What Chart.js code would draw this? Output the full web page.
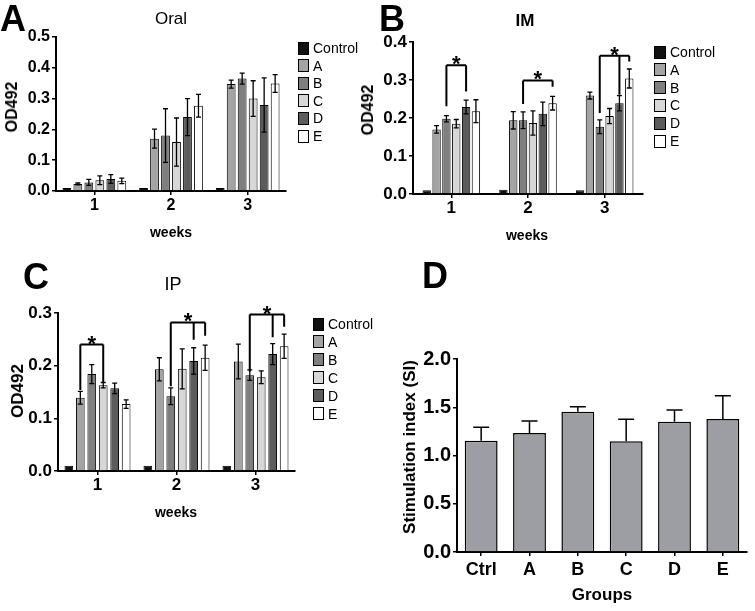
<!DOCTYPE html>
<html>
<head>
<meta charset="utf-8">
<script src="https://cdn.jsdelivr.net/npm/chart.js@4.4.1/dist/chart.umd.min.js"></script>
<style>
  body { margin: 0; background: #fff; }
  #fig { position: relative; width: 755px; height: 611px; overflow: hidden; font-family: "Liberation Sans", Arial, sans-serif; color: #000; }
  canvas { position: absolute; }
  .lbl { position: absolute; white-space: nowrap; line-height: 1; transform: translate(-50%, -50%); }
  .sw { position: absolute; box-sizing: border-box; border: 1px solid #000; }
  .kt { position: absolute; white-space: nowrap; line-height: 1; transform: translateY(-50%); font-size: 14px; }
</style>
</head>
<body>
<div id="fig"></div>
<script>
const FONT = '"Liberation Sans", Arial, sans-serif';

const weeks = ["1", "2", "3"];
const groups = ["Control", "A", "B", "C", "D", "E"];
const groupColors = ["#111111", "#a4a4a4", "#7f7f7f", "#d7d7d7", "#5c5c5c", "#ffffff"];

// A - Oral (one row per group, one value per week)
const oralMean = [
  [0.010, 0.010, 0.010],
  [0.023, 0.170, 0.347],
  [0.028, 0.180, 0.365],
  [0.035, 0.159, 0.300],
  [0.039, 0.240, 0.279],
  [0.033, 0.277, 0.349],
];
const oralErr = [
  [0, 0, 0],
  [0.003, 0.031, 0.013],
  [0.010, 0.087, 0.018],
  [0.014, 0.078, 0.058],
  [0.014, 0.060, 0.088],
  [0.009, 0.037, 0.029],
];

// B - IM
const imMean = [
  [0.010, 0.011, 0.010],
  [0.170, 0.194, 0.259],
  [0.198, 0.194, 0.177],
  [0.185, 0.187, 0.205],
  [0.229, 0.211, 0.239],
  [0.218, 0.239, 0.304],
];
const imErr = [
  [0, 0, 0],
  [0.010, 0.023, 0.009],
  [0.008, 0.022, 0.018],
  [0.011, 0.032, 0.020],
  [0.018, 0.031, 0.020],
  [0.030, 0.018, 0.025],
];
// significance brackets: week, groups joined, top of bracket, lower end of each leg
const imBrackets = [
  { week: 0, legs: [2, 4], top: 0.339, ends: [0.231, 0.270] },
  { week: 1, legs: [2, 5], top: 0.299, ends: [0.237, 0.282] },
  { week: 2, legs: [2, 4, 5], top: 0.364, ends: [0.213, 0.261, 0.349] },
];

// C - IP
const ipMean = [
  [0.010, 0.010, 0.010],
  [0.139, 0.193, 0.208],
  [0.184, 0.142, 0.182],
  [0.163, 0.194, 0.178],
  [0.157, 0.209, 0.222],
  [0.127, 0.215, 0.237],
];
const ipErr = [
  [0, 0, 0],
  [0.012, 0.022, 0.033],
  [0.018, 0.016, 0.010],
  [0.005, 0.038, 0.012],
  [0.010, 0.025, 0.020],
  [0.008, 0.024, 0.023],
];
const ipBrackets = [
  { week: 0, legs: [1, 3], top: 0.240, ends: [0.154, 0.168] },
  { week: 1, legs: [2, 4, 5], top: 0.282, ends: [0.161, 0.249, 0.257] },
  { week: 2, legs: [2, 4, 5], top: 0.297, ends: [0.189, 0.254, 0.274] },
];

// D - stimulation index
const siGroups = ["Ctrl", "A", "B", "C", "D", "E"];
const siMean = [1.154, 1.233, 1.454, 1.147, 1.351, 1.378];
const siErr = [0.138, 0.124, 0.052, 0.228, 0.120, 0.242];

const fig = document.getElementById("fig");

const label = (text, x, y, font, rotate) => {
  let el = document.createElement("div");
  el.className = "lbl";
  el.textContent = text;
  el.style.left = x + "px";
  el.style.top = y + "px";
  el.style.font = font;
  if (rotate) el.style.transform = "translate(-50%, -50%) rotate(-90deg)";
  fig.appendChild(el);
};

const legend = (x, textX, y0, dy, w) => {
  groups.forEach((g, i) => {
    let sw = document.createElement("div");
    sw.className = "sw";
    sw.style.left = x + "px";
    sw.style.top = (y0 + i * dy - 6.5) + "px";
    sw.style.width = w + "px";
    sw.style.height = "13px";
    sw.style.background = groupColors[i];
    fig.appendChild(sw);
    let t = document.createElement("div");
    t.className = "kt";
    t.textContent = g;
    t.style.left = textX + "px";
    t.style.top = (y0 + i * dy) + "px";
    fig.appendChild(t);
  });
};

// error bars drawn from the data through the y scale
const errorBars = {
  id: "errorBars",
  afterDatasetsDraw(chart, args, opts) {
    if (!opts.errors) return;
    const ctx = chart.ctx;
    const ys = chart.scales.y;
    ctx.save();
    ctx.strokeStyle = "#000";
    ctx.lineWidth = opts.width || 1.3;
    chart.data.datasets.forEach((ds, i) => {
      chart.getDatasetMeta(i).data.forEach((bar, j) => {
        let e = opts.errors[i][j];
        if (!e) return;
        let v = ds.data[j];
        let top = ys.getPixelForValue(v + e);
        let bot = opts.upOnly ? ys.getPixelForValue(v) : ys.getPixelForValue(v - e);
        let c = opts.cap / 2;
        ctx.beginPath();
        ctx.moveTo(bar.x, bot);
        ctx.lineTo(bar.x, top);
        ctx.moveTo(bar.x - c, top);
        ctx.lineTo(bar.x + c, top);
        if (!opts.upOnly) {
          ctx.moveTo(bar.x - c, bot);
          ctx.lineTo(bar.x + c, bot);
        }
        ctx.stroke();
      });
    });
    ctx.restore();
  },
};

// significance brackets with a star
const brackets = {
  id: "brackets",
  afterDatasetsDraw(chart, args, opts) {
    if (!opts.list) return;
    const ctx = chart.ctx;
    const ys = chart.scales.y;
    ctx.save();
    ctx.strokeStyle = "#000";
    ctx.fillStyle = "#000";
    ctx.lineWidth = 2;
    opts.list.forEach((b) => {
      let xs = b.legs.map((g) => chart.getDatasetMeta(g).data[b.week].x);
      let top = ys.getPixelForValue(b.top);
      ctx.beginPath();
      ctx.moveTo(xs[0], top);
      ctx.lineTo(xs[xs.length - 1], top);
      xs.forEach((x, k) => {
        ctx.moveTo(x, top);
        ctx.lineTo(x, ys.getPixelForValue(b.ends[k]));
      });
      ctx.stroke();
      ctx.font = "bold 22px " + FONT;
      ctx.textAlign = "center";
      ctx.textBaseline = "alphabetic";
      ctx.fillText("*", (xs[0] + xs[xs.length - 1]) / 2, top + 6);
    });
    ctx.restore();
  },
};

const makePanel = (p) => {
  let canvas = document.createElement("canvas");
  canvas.width = p.w;
  canvas.height = p.h;
  canvas.style.left = p.x + "px";
  canvas.style.top = p.y + "px";
  fig.appendChild(canvas);
  let a = p.area;
  let axisGrid = { drawOnChartArea: false, tickLength: 4, color: "#000", lineWidth: 1.5 };
  return new Chart(canvas, {
    type: "bar",
    data: { labels: p.labels, datasets: p.datasets },
    options: {
      responsive: false,
      animation: false,
      devicePixelRatio: 1,
      layout: { padding: { left: 0, top: a.t, right: p.w - a.r, bottom: 0 } },
      plugins: {
        legend: { display: false },
        tooltip: { enabled: false },
        errorBars: p.errorBars,
        brackets: { list: p.brackets },
      },
      scales: {
        x: {
          grid: Object.assign({ offset: false }, axisGrid),
          border: { color: "#000", width: 2 },
          ticks: { color: "#000", font: { family: FONT, weight: "bold", size: p.xFont }, padding: p.xPad },
          afterFit: (s) => { s.height = p.h - a.b; },
        },
        y: {
          min: 0,
          max: p.max,
          grid: axisGrid,
          border: { color: "#000", width: 2 },
          ticks: {
            stepSize: p.step,
            color: "#000",
            padding: 2,
            font: { family: FONT, weight: "bold", size: p.yFont },
            callback: (v) => v.toFixed(1),
          },
          afterFit: (s) => { s.width = a.l; },
        },
      },
    },
    plugins: [errorBars, brackets],
  });
};

const groupedSets = (means, catPct, barPct) =>
  groups.map((g, i) => ({
    label: g,
    data: means[i],
    backgroundColor: groupColors[i],
    borderColor: "#000",
    borderWidth: 1,
    categoryPercentage: catPct,
    barPercentage: barPct,
  }));

// A
makePanel({
  x: 0, y: 0, w: 380, h: 230,
  area: { l: 56, t: 37, r: 286, b: 191 },
  labels: weeks, max: 0.5, step: 0.1, xFont: 16, yFont: 16, xPad: 1,
  datasets: groupedSets(oralMean, 0.86, 0.8),
  errorBars: { errors: oralErr, cap: 5 },
});
label("A", 13, 19, "bold 36px " + FONT);
label("Oral", 171, 19, "17px " + FONT);
label("OD492", 12, 107, "bold 16px " + FONT, true);
label("weeks", 171, 232, "bold 14px " + FONT);
legend(298, 313, 48, 17.6, 11);

// B
makePanel({
  x: 355, y: 0, w: 400, h: 230,
  area: { l: 58, t: 42, r: 288, b: 194 },
  labels: weeks, max: 0.4, step: 0.1, xFont: 17, yFont: 17, xPad: 0,
  datasets: groupedSets(imMean, 0.77, 0.85),
  errorBars: { errors: imErr, cap: 5 },
  brackets: imBrackets,
});
label("B", 392, 19, "bold 36px " + FONT);
label("IM", 525, 21, "bold 17px " + FONT);
label("OD492", 368, 110, "bold 16px " + FONT, true);
label("weeks", 527, 235, "bold 14px " + FONT);
legend(654, 670, 52, 17.8, 12);

// C
makePanel({
  x: 0, y: 250, w: 380, h: 271,
  area: { l: 58, t: 63, r: 295, b: 221 },
  labels: weeks, max: 0.3, step: 0.1, xFont: 17, yFont: 17, xPad: 0,
  datasets: groupedSets(ipMean, 0.87, 0.76),
  errorBars: { errors: ipErr, cap: 5 },
  brackets: ipBrackets,
});
label("C", 36, 277, "bold 36px " + FONT);
label("IP", 173, 284, "18px " + FONT);
label("OD492", 18, 391, "bold 17px " + FONT, true);
label("weeks", 176, 512, "bold 14px " + FONT);
legend(313, 328, 324, 17.9, 11);

// D
makePanel({
  x: 375, y: 250, w: 380, h: 361,
  area: { l: 82, t: 109, r: 372, b: 302 },
  labels: siGroups, max: 2.0, step: 0.5, xFont: 18, yFont: 20, xPad: 3,
  datasets: [{
    label: "SI",
    data: siMean,
    backgroundColor: "#9d9ea3",
    borderColor: "#000",
    borderWidth: 1.5,
    categoryPercentage: 1,
    barPercentage: 0.68,
  }],
  errorBars: { errors: [siErr], cap: 16, upOnly: true, width: 1.5 },
});
label("D", 435, 276, "bold 36px " + FONT);
label("Stimulation index (SI)", 410, 447, "bold 17px " + FONT, true);
label("Groups", 602, 595, "bold 17px " + FONT);
</script>
</body>
</html>
